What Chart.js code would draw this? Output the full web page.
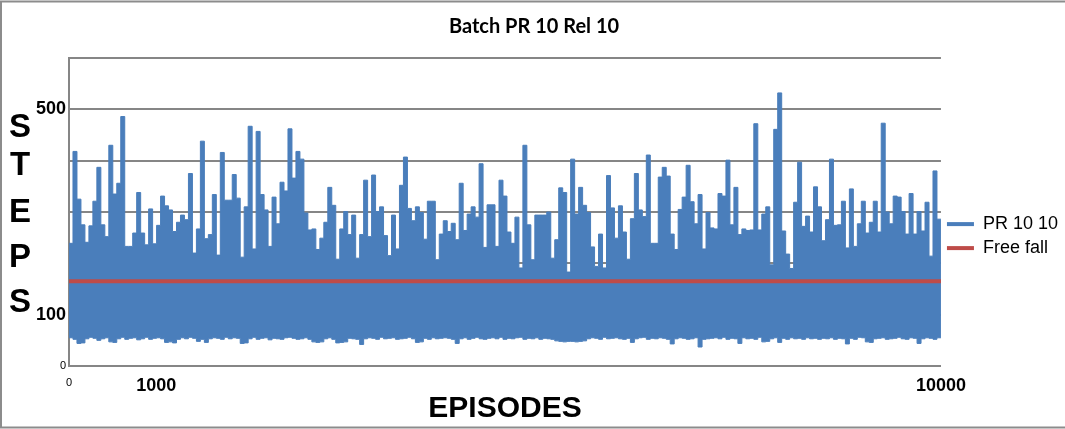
<!DOCTYPE html>
<html>
<head>
<meta charset="utf-8">
<script src="https://cdn.jsdelivr.net/npm/chart.js@4.4.1/dist/chart.umd.min.js"></script>
<style>
  html, body { margin: 0; padding: 0; background: #fff; }
  #chart { display: block; }
</style>
</head>
<body>
<canvas id="chart" width="1065" height="429"></canvas>
<script>
const totalEpisodes = 10000;
const stepsHigh = [
  239,418,325,275,241,273,321,387,275,252,430,335,356,486,233,233,259,338,259,236,306,238,274,331,312,304,262,280,294,285,375,220,
  267,438,248,256,334,216,416,323,323,373,327,212,310,467,228,457,334,304,233,329,277,358,341,462,366,418,403,298,265,267,227,
  249,280,348,313,208,267,301,256,294,210,256,362,252,372,301,310,254,215,294,228,352,407,307,283,310,299,247,321,321,207,257,283,
  262,278,246,356,264,296,310,290,394,231,314,314,233,362,331,261,239,290,191,430,275,207,294,294,294,300,210,246,347,338,183,
  403,296,348,313,299,232,194,257,191,371,308,249,312,261,208,287,375,304,291,411,239,239,368,387,370,257,227,305,329,391,320,277,
  334,228,299,269,267,336,331,401,275,348,256,267,264,265,472,265,296,310,197,461,532,263,218,190,319,397,272,292,261,349,310,
  244,285,403,274,275,321,230,345,233,277,321,259,280,321,261,473,300,277,331,329,301,257,336,257,301,263,319,214,380,286
];
const stepsLow = [
  55,52,44,45,53,56,54,50,53,55,47,46,53,56,52,54,55,51,53,56,52,54,55,53,46,47,45,52,55,53,56,54,
  48,52,46,53,55,54,52,56,53,55,54,44,45,53,56,52,54,55,51,54,53,52,55,56,54,52,53,55,52,47,46,
  47,53,55,52,45,46,47,54,53,52,42,53,55,54,52,56,53,54,55,52,53,54,56,53,46,47,54,52,55,53,54,55,
  54,52,44,53,55,52,54,56,53,52,54,55,53,56,52,54,53,55,56,52,54,53,55,52,54,53,52,49,48,47,48,
  48,47,48,49,53,55,54,52,56,53,54,55,53,52,54,46,53,55,56,52,54,53,55,54,52,43,53,55,54,52,53,55,
  37,52,53,54,55,53,56,52,54,53,44,55,53,54,52,56,47,48,53,55,46,54,52,55,53,54,52,55,53,54,52,
  54,53,55,52,54,53,43,54,52,56,55,47,46,53,54,55,52,53,54,56,53,52,55,54,44,53,55,54,52,55
];
const freeFallSteps = 165;
const xTickValues = [0, 1000, 10000];
const yLabelValues = [0, 100, 500];
const yTitleLetters = ['S', 'T', 'E', 'P', 'S'];

const blue = '#4A7EBB';
const red = '#BE4B48';
const gray = '#868686';
const arial = '"Liberation Sans", Arial, sans-serif';

function toPoints(values) {
  const width = totalEpisodes / values.length;
  const pts = values.map((v, i) => ({ x: i * width, y: v }));
  pts.push({ x: totalEpisodes, y: values[values.length - 1] });
  return pts;
}

// grey frame round the picture (no right edge)
const frame = {
  id: 'frame',
  beforeDraw(chart) {
    const { ctx, width, height } = chart;
    ctx.save();
    ctx.fillStyle = '#fff';
    ctx.fillRect(0, 0, width, height);
    ctx.strokeStyle = '#8C8C8C';
    ctx.lineWidth = 2;
    ctx.beginPath();
    ctx.moveTo(width, 1.5);
    ctx.lineTo(1, 1.5);
    ctx.lineTo(1, height - 1.5);
    ctx.lineTo(width, height - 1.5);
    ctx.stroke();
    ctx.restore();
  }
};

// the y title is written as stacked letters
const stackedTitle = {
  id: 'stackedTitle',
  afterDraw(chart) {
    const ctx = chart.ctx;
    const baselines = [137, 175, 222, 267, 312];
    ctx.save();
    ctx.font = 'bold 33px ' + arial;
    ctx.fillStyle = '#000';
    ctx.textAlign = 'center';
    ctx.textBaseline = 'alphabetic';
    yTitleLetters.forEach((ch, i) => ctx.fillText(ch, 20, baselines[i]));
    ctx.restore();
  }
};

Chart.defaults.font.family = arial;
Chart.defaults.color = '#000';

const ctx = document.getElementById('chart').getContext('2d');
const chart = new Chart(ctx, {
  type: 'line',
  data: {
    datasets: [{
      label: 'PR 10 10',
      data: toPoints(stepsHigh),
      borderColor: blue,
      backgroundColor: blue,
      borderWidth: 1,
      fill: '+1',
      stepped: true,
      pointRadius: 0,
      order: 1
    }, {
      label: 'low',
      data: toPoints(stepsLow),
      borderColor: blue,
      backgroundColor: blue,
      borderWidth: 1,
      fill: false,
      stepped: true,
      pointRadius: 0,
      order: 1
    }, {
      label: 'Free fall',
      data: [{ x: 0, y: freeFallSteps }, { x: totalEpisodes, y: freeFallSteps }],
      borderColor: red,
      backgroundColor: red,
      borderWidth: 4,
      pointRadius: 0,
      fill: false,
      order: 0
    }]
  },
  options: {
    responsive: false,
    animation: false,
    devicePixelRatio: 1,
    layout: { padding: { left: 0, right: -3, top: 0, bottom: 5 } },
    plugins: {
      tooltip: { enabled: false },
      title: {
        display: true,
        text: 'Batch PR 10 Rel 10',
        color: '#000',
        font: { family: 'Lato', size: 20, weight: 'bold' },
        padding: { top: 15, bottom: 19 }
      },
      legend: {
        position: 'right',
        align: 'center',
        title: { display: true, text: ' ', font: { size: 1 }, padding: { top: 47, bottom: 0 } },
        labels: {
          boxWidth: 27,
          boxHeight: 4,
          padding: 6,
          font: { size: 18 },
          color: '#000',
          filter: item => item.datasetIndex !== 1,
          sort: (a, b) => a.datasetIndex - b.datasetIndex,
          generateLabels(c) {
            return Chart.defaults.plugins.legend.labels.generateLabels(c)
              .map(item => Object.assign(item, { lineWidth: 0 }));
          }
        }
      }
    },
    scales: {
      x: {
        type: 'linear',
        min: 0,
        max: totalEpisodes,
        afterBuildTicks(scale) {
          scale.ticks = xTickValues.map(value => ({ value }));
        },
        grid: { display: false, drawTicks: false },
        border: { color: gray, width: 2 },
        ticks: {
          autoSkip: false,
          maxRotation: 0,
          padding: 11,
          callback: v => String(v),
          font: c => (c.tick && c.tick.value === 0)
            ? { size: 11, weight: 'normal', lineHeight: 1 }
            : { size: 18, weight: 'bold', lineHeight: 1 }
        },
        title: {
          display: true,
          text: 'EPISODES',
          font: { size: 30, weight: 'bold', lineHeight: 1 },
          padding: { top: -12, bottom: 0 }
        }
      },
      y: {
        min: 0,
        max: 600,
        afterFit(scale) { scale.width = 69; },
        grid: { color: gray, lineWidth: 2, drawTicks: false },
        border: { color: gray, width: 2 },
        ticks: {
          stepSize: 100,
          padding: 3,
          callback: v => yLabelValues.includes(v) ? String(v) : '',
          font: c => (c.tick && c.tick.value === 0)
            ? { size: 11, weight: 'normal' }
            : { size: 18, weight: 'bold' }
        }
      }
    }
  },
  plugins: [frame, stackedTitle]
});
</script>
</body>
</html>
